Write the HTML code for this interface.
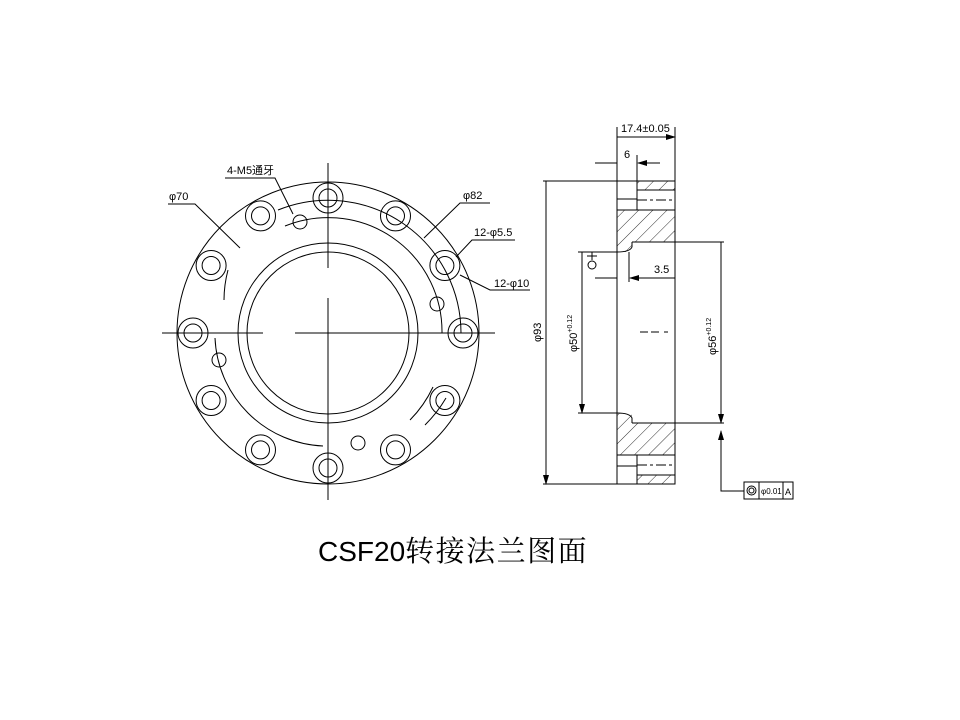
<!DOCTYPE html>
<html><head><meta charset="utf-8"><style>
html,body{margin:0;padding:0;background:#fff;width:960px;height:720px;overflow:hidden}
svg{display:block}
text{font-family:"Liberation Sans","Noto Sans CJK SC",sans-serif;fill:#000}
</style></head><body>
<svg width="960" height="720" viewBox="0 0 960 720" xmlns="http://www.w3.org/2000/svg">
<defs>
<pattern id="h" width="10" height="10" patternUnits="userSpaceOnUse" patternTransform="rotate(45)">
<line x1="0" y1="0" x2="0" y2="10" stroke="#000" stroke-width="0.8"/>
</pattern>
<marker id="a" markerWidth="10" markerHeight="6" refX="9" refY="3" orient="auto" markerUnits="userSpaceOnUse"><path d="M0,0 L10,3 L0,6z" fill="#000"/></marker>
</defs>
<g fill="none" stroke="#000" stroke-width="1">
<circle cx="328" cy="333" r="151"/>
<circle cx="328" cy="333" r="90"/>
<circle cx="328" cy="333" r="81"/>
<path d="M278,210 A133,133 0 0 1 461,333"/>
<path d="M285,226 A114,114 0 0 1 442,333"/>
<path d="M215,338 A113,113 0 0 0 323,446"/>
<path d="M228,270 A118,118 0 0 0 224,300" />
<path d="M433,387 A118,118 0 0 1 410,420"/>
<path d="M446,398 A133,133 0 0 1 425,425"/>
<g>
<circle cx="328" cy="198" r="15"/><circle cx="328" cy="198" r="9"/>
<circle cx="395.5" cy="215.9" r="15"/><circle cx="395.5" cy="215.9" r="9"/>
<circle cx="444.9" cy="265.5" r="15"/><circle cx="444.9" cy="265.5" r="9"/>
<circle cx="463" cy="333" r="15"/><circle cx="463" cy="333" r="9"/>
<circle cx="444.9" cy="400.5" r="15"/><circle cx="444.9" cy="400.5" r="9"/>
<circle cx="395.5" cy="449.9" r="15"/><circle cx="395.5" cy="449.9" r="9"/>
<circle cx="328" cy="468" r="15"/><circle cx="328" cy="468" r="9"/>
<circle cx="260.5" cy="449.9" r="15"/><circle cx="260.5" cy="449.9" r="9"/>
<circle cx="211.1" cy="400.5" r="15"/><circle cx="211.1" cy="400.5" r="9"/>
<circle cx="193" cy="333" r="15"/><circle cx="193" cy="333" r="9"/>
<circle cx="211.1" cy="265.5" r="15"/><circle cx="211.1" cy="265.5" r="9"/>
<circle cx="260.5" cy="215.9" r="15"/><circle cx="260.5" cy="215.9" r="9"/>
</g>
<circle cx="300" cy="222" r="7"/><circle cx="437" cy="304" r="7"/><circle cx="219" cy="360" r="7"/><circle cx="358" cy="443" r="7"/>
<path d="M162,333 H263 M295,333 H495 M328,163 V268 M328,298 V500"/>
<path d="M225,178 H275 L293,214" /><path d="M168,204 H195 L240,248"/>
<path d="M490,203 H460 L424,238"/><path d="M515,240 H472 L456,257"/>
<path d="M530,290 H490 L460,275"/>
</g>
<g font-size="11">
<text x="227" y="174">4-M5通牙</text>
<text x="169" y="200">φ70</text>
<text x="463" y="199">φ82</text>
<text x="474" y="236">12-φ5.5</text>
<text x="494" y="287">12-φ10</text>
</g>
<!-- right view -->
<g fill="url(#h)" stroke="none">
<rect x="637" y="181" width="38" height="9"/>
<rect x="617" y="210" width="58" height="32"/>
<rect x="617" y="242" width="15" height="10"/>
<rect x="637" y="475" width="38" height="9"/>
<rect x="617" y="423" width="58" height="32"/>
<rect x="617" y="413" width="15" height="10"/>
</g>
<g fill="none" stroke="#000" stroke-width="1">
<path d="M617,181 H675 V484 H617 Z"/>
<path d="M637,181 V210 M617,210 H675 M637,190 H675 M617,199 H637" />
<path d="M637,200 H675" stroke-dasharray="10 3 3 3"/>
<path d="M637,455 V484 M617,455 H675 M637,475 H675 M617,466 H637"/>
<path d="M637,465 H675" stroke-dasharray="10 3 3 3"/>
<path d="M632,242 H675 M632,242 V247 Q630,252 617,252"/>
<path d="M632,423 H675 M632,423 V418 Q630,413 617,413"/>
<path d="M640,332 H660 M664,332 H668" stroke-dasharray="8 3"/>
<path d="M543,181 H617 M543,484 H617 M546,184 V481" />
<path d="M546,190 V181 M546,475 V484" marker-end="url(#a)"/>
<path d="M578,252 H617 M578,413 H617 M582,262 V403"/>
<path d="M582,262 V252 M582,403 V413" marker-end="url(#a)"/>
<path d="M675,242 H724 M675,423 H724 M721,252 V413"/>
<path d="M721,252 V242 M721,413 V423" marker-end="url(#a)"/>
<path d="M721,433 V491 H744"/><path d="M721,440 V431" marker-end="url(#a)"/>
<path d="M617,181 V127 M675,181 V127 M627,137 H665"/>
<path d="M630,137 H617 M662,137 H675" marker-end="url(#a)"/>
<path d="M637,181 V155 M595,163 H608 M650,163 H660"/>
<path d="M607,163 H617 M650,163 H638" marker-end="url(#a)"/>
<path d="M629,252 V282 M595,278 H605 M640,278 H675"/>
<path d="M605,278 H617 M640,278 H630" marker-end="url(#a)"/>
<path d="M592,252 V260 M587,256 H597"/><circle cx="592" cy="265" r="4"/>
<rect x="744" y="482" width="49" height="17"/><path d="M759,482 V499 M783,482 V499"/>
<circle cx="751.5" cy="490.5" r="4.5"/><circle cx="751.5" cy="490.5" r="2.5"/>
</g>
<g font-size="11">
<text x="621" y="132">17.4±0.05</text>
<text x="624" y="158">6</text>
<text x="654" y="273">3.5</text>
<text transform="translate(541,342) rotate(-90)">φ93</text>
<text transform="translate(577,352) rotate(-90)">φ50<tspan font-size="7" dy="-5">+0.12</tspan></text>
<text transform="translate(716,355) rotate(-90)">φ56<tspan font-size="7" dy="-5">+0.12</tspan></text>
<text x="761" y="494" font-size="8">φ0.01</text>
<text x="785" y="495" font-size="9">A</text>
</g>
<text x="318" y="561" font-size="28" style="font-family:'Liberation Sans','Noto Serif CJK SC',serif">CSF20<tspan style="font-family:'Noto Serif CJK SC',serif;letter-spacing:1.5px" font-size="29">转接法兰图面</tspan></text>
</svg>
</body></html>
